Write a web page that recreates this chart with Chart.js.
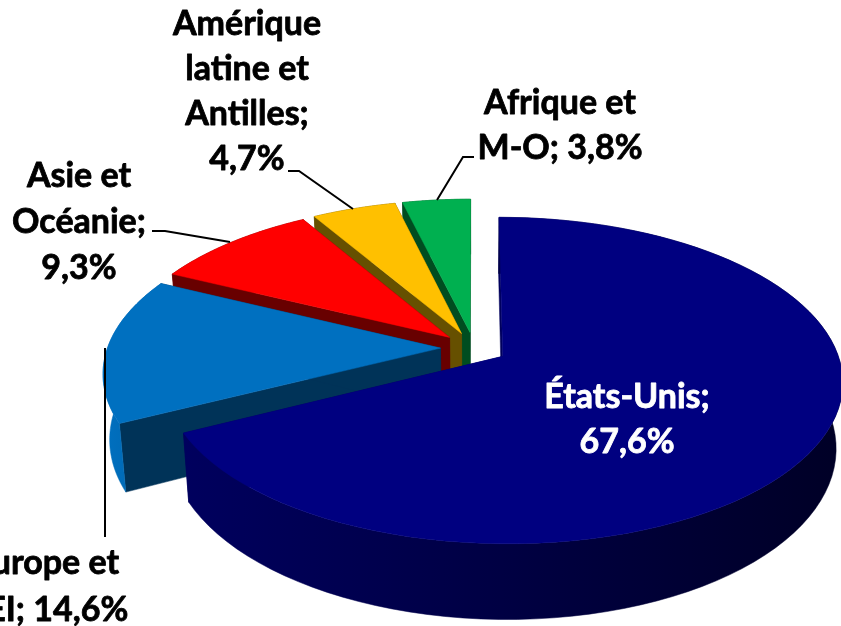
<!DOCTYPE html>
<html>
<head>
<meta charset="utf-8">
<style>
  html, body { margin: 0; padding: 0; background: #fff; overflow: hidden; }
  #wrap { width: 841px; height: 626px; }
</style>
</head>
<body>
<div id="wrap"><canvas id="myChart"></canvas></div>
<script src="https://cdn.jsdelivr.net/npm/chart.js@4"></script>
<script>
const categories = ['États-Unis', 'Europe et CEI', 'Asie et Océanie', 'Amérique latine et Antilles', 'Afrique et M-O'];
const shares = [67.6, 14.6, 9.3, 4.7, 3.8];

// colours: top of the slice, cut faces, outer wall (left and right end)
const topColors = ['#000080', '#0070C0', '#FF0000', '#FFC000', '#00B050'];
const cutColors = ['#00005C', '#003358', '#680000', '#665000', '#004D20'];
const wallLeft = ['#00005E', '#0070C0', '#680000', '#665000', '#004D20'];
const wallRight = ['#000026', '#0063AA', '#680000', '#665000', '#004D20'];

// the pie is tilted with a small perspective, Chart.js only gives us the angles
const view = { x: 474, y: 348, radius: 333, tilt: 0.472, persp: 0.147, depth: 64, shrink: 0.018 };

function project(u, v, z) {
  const w = 1 / (1 - view.persp * v);
  return {
    x: view.x + view.radius * u * w * (1 - view.shrink * z),
    y: view.y + view.radius * view.tilt * v * w + view.depth * z * w
  };
}

function fillPoly(ctx, pts, fill) {
  ctx.beginPath();
  pts.forEach((p, i) => i ? ctx.lineTo(p.x, p.y) : ctx.moveTo(p.x, p.y));
  ctx.closePath();
  ctx.fillStyle = fill;
  ctx.fill();
  ctx.strokeStyle = fill;
  ctx.lineWidth = 0.5;
  ctx.stroke();
}

function drawSlice(ctx, el, i) {
  const mid = (el.startAngle + el.endAngle) / 2;
  const off = el.options.offset / el.outerRadius;
  const cu = Math.cos(mid) * off;
  const cv = Math.sin(mid) * off;
  const steps = 90;
  const rim = [];
  for (let s = 0; s <= steps; s++) {
    const a = el.startAngle + (el.endAngle - el.startAngle) * s / steps;
    rim.push([cu + Math.cos(a), cv + Math.sin(a)]);
  }
  const first = rim[0];
  const last = rim[steps];

  // cut faces
  fillPoly(ctx, [project(cu, cv, 0), project(first[0], first[1], 0), project(first[0], first[1], 1), project(cu, cv, 1)], cutColors[i]);
  fillPoly(ctx, [project(cu, cv, 0), project(last[0], last[1], 0), project(last[0], last[1], 1), project(cu, cv, 1)], cutColors[i]);

  // outer wall
  const wall = rim.map(p => project(p[0], p[1], 0)).concat(rim.slice().reverse().map(p => project(p[0], p[1], 1)));
  const xs = wall.map(p => p.x);
  const grad = ctx.createLinearGradient(Math.min(...xs), 0, Math.max(...xs), 0);
  grad.addColorStop(0, wallLeft[i]);
  grad.addColorStop(1, wallRight[i]);
  fillPoly(ctx, wall, grad);

  // top
  fillPoly(ctx, [project(cu, cv, 0)].concat(rim.map(p => project(p[0], p[1], 0))), topColors[i]);
}

// back slices first, États-Unis goes last because it sits in front
const pie3d = {
  id: 'pie3d',
  beforeDatasetsDraw(chart) {
    const ctx = chart.ctx;
    const arcs = chart.getDatasetMeta(0).data;
    ctx.save();
    for (let i = arcs.length - 1; i >= 0; i--) drawSlice(ctx, arcs[i], i);
    ctx.restore();
    return false;
  }
};

const pct = v => v.toFixed(1).replace('.', ',') + '%';

// line breaks and places of the data labels
const labelLines = [
  ['États-Unis;', pct(shares[0])],
  ['Europe et', 'CEI; ' + pct(shares[1])],
  ['Asie et', 'Océanie;', pct(shares[2])],
  ['Amérique', 'latine et', 'Antilles;', pct(shares[3])],
  ['Afrique et', 'M-O; ' + pct(shares[4])]
];
const labelColors = ['#fff', '#000', '#000', '#000', '#000'];
const labelCenterX = [627, 46, 79, 247, 560];
const labelFirstY = [397, 563, 176, 24, 103];
const labelStep = [45, 47, 46, 45, 45];
const leaders = [
  null,
  [[105, 348], [105, 537]],
  [[152, 231], [165, 231], [230, 242]],
  [[288, 171], [299, 171], [353, 209]],
  [[474, 157], [463, 157], [437, 200]]
];

// afterDraw: the false above also cancels afterDatasetsDraw
const pieLabels = {
  id: 'pieLabels',
  afterDraw(chart) {
    const ctx = chart.ctx;
    ctx.save();
    ctx.strokeStyle = '#000';
    ctx.lineWidth = 2;
    leaders.forEach(line => {
      if (!line) return;
      ctx.beginPath();
      line.forEach((p, i) => i ? ctx.lineTo(p[0], p[1]) : ctx.moveTo(p[0], p[1]));
      ctx.stroke();
    });
    ctx.font = '700 34px Lato';
    ctx.textAlign = 'center';
    ctx.textBaseline = 'middle';
    ctx.lineWidth = 0.8;
    ctx.lineJoin = 'round';
    labelLines.forEach((lines, i) => {
      ctx.fillStyle = labelColors[i];
      ctx.strokeStyle = labelColors[i];
      lines.forEach((txt, j) => {
        const y = labelFirstY[i] + j * labelStep[i];
        ctx.fillText(txt, labelCenterX[i], y);
        ctx.strokeText(txt, labelCenterX[i], y); // Lato bold alone is a bit thin here
      });
    });
    ctx.restore();
  }
};

new Chart(document.querySelector('#myChart'), {
  type: 'pie',
  data: {
    labels: categories,
    datasets: [{
      label: 'Part',
      data: shares,
      backgroundColor: topColors,
      borderWidth: 0,
      offset: 30
    }]
  },
  options: {
    responsive: true,
    maintainAspectRatio: false,
    animation: false,
    events: [],
    plugins: {
      legend: { display: false },
      tooltip: { enabled: false }
    }
  },
  plugins: [pie3d, pieLabels]
});
</script>
</body>
</html>
